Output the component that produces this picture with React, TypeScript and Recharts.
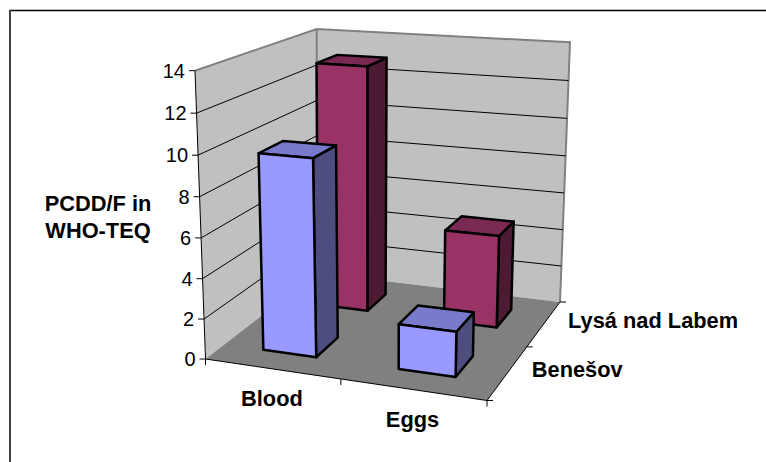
import { BarChart, Bar, XAxis, YAxis, CartesianGrid } from "recharts";

const categories = ["Blood", "Eggs"];
const benesov = [9.8, 2.2];
const lysa = [13, 4.8];
const valueTicks = [0, 2, 4, 6, 8, 10, 12, 14];
const seriesNames = ["Benešov", "Lysá nad Labem"];

const chartData = categories.map((name, i) => ({ name, benesov: benesov[i], lysa: lysa[i] }));

const WIDTH = 766;
const HEIGHT = 462;
// the axes take 1px each, so the plot area is 726 x 422 starting at 20,20
const MARGIN = { top: 20, right: 20, bottom: 19, left: 19 };
const PLOT_LEFT = 20;
const PLOT_TOP = 20;
const PLOT_W = 726;
const PLOT_H = 422;
const FONT = "'Liberation Sans', Arial, sans-serif";

type Pt = [number, number];

// unit square -> quad, corners in order (0,0) (1,0) (1,1) (0,1)
function quadMap(q: Pt[]) {
  const [[x0, y0], [x1, y1], [x2, y2], [x3, y3]] = q;
  const dx1 = x1 - x2, dx2 = x3 - x2, dy1 = y1 - y2, dy2 = y3 - y2;
  const sx = x0 - x1 + x2 - x3, sy = y0 - y1 + y2 - y3;
  const den = dx1 * dy2 - dx2 * dy1;
  const g = (sx * dy2 - dx2 * sy) / den;
  const h = (dx1 * sy - sx * dy1) / den;
  const a = x1 - x0 + g * x1, b = x3 - x0 + h * x3;
  const d = y1 - y0 + g * y1, e = y3 - y0 + h * y3;
  return (u: number, w: number): Pt => {
    const k = g * u + h * w + 1;
    return [(a * u + b * w + x0) / k, (d * u + e * w + y0) / k];
  };
}

const floor = quadMap([[205.5, 359], [487, 400.5], [560, 302], [317, 273]]);
const ceiling = quadMap([[195, 70.7], [495, 92], [570, 42.3], [316.7, 29]]);

function project(u: number, w: number, t: number): Pt {
  const s = t / (t + (1 - t) * 1.036);
  const b = floor(u, w), c = ceiling(u, w);
  return [b[0] + (c[0] - b[0]) * s, b[1] + (c[1] - b[1]) * s];
}

const toPoints = (pts: Pt[]) => pts.map((p) => p.join(",")).join(" ");
const valueFraction = (y: number) => (PLOT_TOP + PLOT_H - y) / PLOT_H;

function makeBox(w0: number, w1: number, front: string, top: string, side: string) {
  return (props: any) => {
    const u0 = (props.x - PLOT_LEFT) / PLOT_W;
    const u1 = (props.x + props.width - PLOT_LEFT) / PLOT_W;
    const t = props.height / PLOT_H;
    const common = { stroke: "#000", strokeWidth: 2.5, strokeLinejoin: "round" as const };
    return (
      <g>
        <polygon {...common} fill={side} points={toPoints([project(u1, w0, 0), project(u1, w1, 0), project(u1, w1, t), project(u1, w0, t)])} />
        <polygon {...common} fill={top} points={toPoints([project(u0, w0, t), project(u1, w0, t), project(u1, w1, t), project(u0, w1, t)])} />
        <polygon {...common} fill={front} points={toPoints([project(u0, w0, 0), project(u1, w0, 0), project(u1, w0, t), project(u0, w0, t)])} />
      </g>
    );
  };
}

const GridLine = (props: any) => {
  const t = valueFraction(props.y1);
  if (t < 0.01 || t > 0.99) return <g key={props.key} />;
  return (
    <polyline
      key={props.key}
      fill="none"
      stroke="#000"
      strokeWidth={1}
      points={toPoints([project(0, 0, t), project(0, 1, t), project(1, 1, t)])}
    />
  );
};

const ValueTick = (props: any) => {
  const t = valueFraction(props.y);
  const [px, py] = project(0, 0, t);
  return (
    <g>
      <line x1={px - 6} y1={py} x2={px} y2={py} stroke="#000" />
      <text x={px - 10} y={py + 7} textAnchor="end" fontFamily={FONT} fontSize={20} fill="#000">
        {props.payload.value}
      </text>
    </g>
  );
};

const CategoryTick = (props: any) => {
  const u = (props.x - PLOT_LEFT) / PLOT_W;
  const [px, py] = project(u, 0, 0);
  return (
    <text x={px} y={py + 37} textAnchor="middle" fontFamily={FONT} fontSize={21.8} fontWeight="bold" fill="#000">
      {props.payload.value}
    </text>
  );
};

// sits in its own svg behind the chart, recharts paints the grid under its other children
function Walls() {
  return (
    <svg width={WIDTH} height={HEIGHT} style={{ position: "absolute", left: 0, top: 0 }}>
      <line x1={9} y1={10.5} x2={766} y2={10.5} stroke="#000" strokeWidth={1.5} />
      <line x1={10} y1={10} x2={10} y2={462} stroke="#404040" strokeWidth={2} />
      <polygon fill="#c0c0c0" points={toPoints([project(0, 0, 0), project(0, 1, 0), project(0, 1, 1), project(0, 0, 1)])} />
      <polygon fill="#c0c0c0" points={toPoints([project(0, 1, 0), project(1, 1, 0), project(1, 1, 1), project(0, 1, 1)])} />
      <polygon fill="#808080" points={toPoints([project(0, 0, 0), project(1, 0, 0), project(1, 1, 0), project(0, 1, 0)])} />
      <polyline
        fill="none"
        stroke="#808080"
        strokeWidth={2}
        points={toPoints([project(0, 0, 1), project(0, 1, 1), project(1, 1, 1), project(1, 1, 0)])}
      />
      <line x1={project(0, 1, 0)[0]} y1={project(0, 1, 0)[1]} x2={project(0, 1, 1)[0]} y2={project(0, 1, 1)[1]} stroke="#808080" strokeWidth={2} />
    </svg>
  );
}

function AxisEdges() {
  const stops = [0, 0.5, 1];
  return (
    <g stroke="#000" strokeWidth={1}>
      <polyline fill="none" points={toPoints([project(0, 0, 1), project(0, 0, 0), project(1, 0, 0), project(1, 1, 0)])} />
      {stops.map((u) => {
        const [x, y] = project(u, 0, 0);
        return <line key={`u${u}`} x1={x} y1={y} x2={x} y2={y + 6} />;
      })}
      {stops.map((w) => {
        const [x, y] = project(1, w, 0);
        return <line key={`w${w}`} x1={x} y1={y} x2={x + 6} y2={y} />;
      })}
    </g>
  );
}

function TextLabels() {
  const common = { fontFamily: FONT, fontSize: 21.8, fontWeight: "bold", fill: "#000" };
  return (
    <g>
      <text {...common} x={98} y={211} textAnchor="middle">PCDD/F in</text>
      <text {...common} x={98} y={238} textAnchor="middle">WHO-TEQ</text>
      {seriesNames.map((name, i) => {
        const [x, y] = project(1, 0.25 + i * 0.5, 0);
        return <text key={name} {...common} x={x + 24} y={y + 5}>{name}</text>;
      })}
    </g>
  );
}

export default function App() {
  return (
    <div style={{ position: "absolute", left: 0, top: 0, width: WIDTH, height: HEIGHT, background: "#fff" }}>
      <Walls />
      <BarChart
        width={WIDTH}
        height={HEIGHT}
        data={chartData}
        margin={MARGIN}
        barCategoryGap="30%"
        barGap="-40%"
      >
        <CartesianGrid vertical={false} horizontal={GridLine} />
        <AxisEdges />
        <XAxis dataKey="name" height={1} axisLine={false} tickLine={false} tick={CategoryTick} interval={0} />
        <YAxis width={1} domain={[0, 14]} ticks={valueTicks} axisLine={false} tickLine={false} tick={ValueTick} />
        <Bar dataKey="lysa" isAnimationActive={false} shape={makeBox(0.65, 0.85, "#993366", "#7a2952", "#4d1a33")} />
        <Bar dataKey="benesov" isAnimationActive={false} shape={makeBox(0.15, 0.35, "#9999ff", "#7a7acc", "#4d4d80")} />
        <TextLabels />
      </BarChart>
    </div>
  );
}
